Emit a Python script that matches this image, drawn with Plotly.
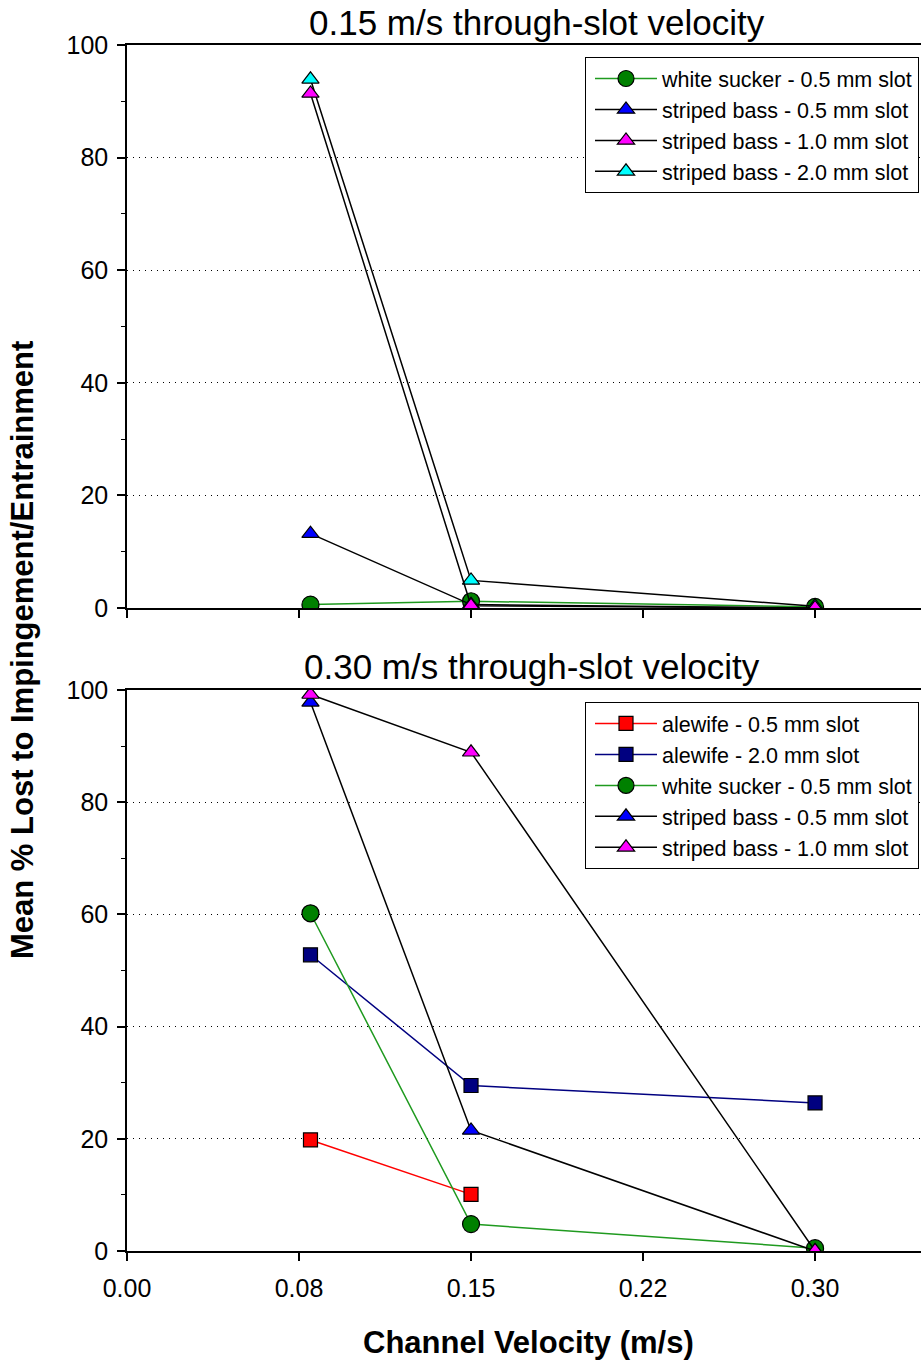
import plotly.graph_objects as go

# x positions (channel velocity, m/s)
velocity = [0.08, 0.15, 0.30]

# Top panel: 0.15 m/s through-slot velocity
top_white_sucker_05 = [0.6, 1.2, 0.2]
top_striped_bass_05 = [13.2, 0.6, 0.0]
top_striped_bass_10 = [91.4, 0.4, 0.0]
top_striped_bass_20 = [93.9, 4.9, 0.3]

# Bottom panel: 0.30 m/s through-slot velocity
bot_alewife_05 = [19.8, 10.1, None]
bot_alewife_20 = [52.8, 29.5, 26.4]
bot_white_sucker_05 = [60.2, 4.8, 0.5]
bot_striped_bass_05 = [97.8, 21.5, 0.0]
bot_striped_bass_10 = [99.2, 88.9, 0.0]

x_tickvals = [0.0, 0.075, 0.15, 0.225, 0.30]
x_ticktext = ["0.00", "0.08", "0.15", "0.22", "0.30"]
y_tickvals = [0, 20, 40, 60, 80, 100]

FONT = "Liberation Sans, Arial, sans-serif"

fig = go.Figure()

def add(x, y, name, symbol, fill, line_color, size, xa, ya, legend, rank):
    fig.add_trace(go.Scatter(
        x=x, y=y, name=name, mode="lines+markers",
        xaxis=xa, yaxis=ya, legend=legend, legendrank=rank,
        line=dict(color=line_color, width=1.5),
        marker=dict(symbol=symbol, size=size, color=fill,
                    line=dict(color="black", width=1.2)),
        connectgaps=False,
    ))

GREEN_LINE = "#1f9a1f"
# top panel (drawing order chosen to mimic overlaps)
add(velocity, top_white_sucker_05, "white sucker - 0.5 mm slot", "circle", "#008000", GREEN_LINE, 17, "x", "y", "legend", 1)
add(velocity, top_striped_bass_05, "striped bass - 0.5 mm slot", "triangle-up", "#0000ff", "black", 15, "x", "y", "legend", 2)
add(velocity, top_striped_bass_20, "striped bass - 2.0 mm slot", "triangle-up", "#00ffff", "black", 15, "x", "y", "legend", 4)
add(velocity, top_striped_bass_10, "striped bass - 1.0 mm slot", "triangle-up", "#ff00ff", "black", 15, "x", "y", "legend", 3)

# bottom panel
add(velocity, bot_alewife_05, "alewife - 0.5 mm slot", "square", "#ff0000", "#ff0000", 14, "x2", "y2", "legend2", 1)
add(velocity, bot_alewife_20, "alewife - 2.0 mm slot", "square", "#000080", "#000080", 14, "x2", "y2", "legend2", 2)
add(velocity, bot_white_sucker_05, "white sucker - 0.5 mm slot", "circle", "#008000", GREEN_LINE, 17, "x2", "y2", "legend2", 3)
add(velocity, bot_striped_bass_05, "striped bass - 0.5 mm slot", "triangle-up", "#0000ff", "black", 15, "x2", "y2", "legend2", 4)
add(velocity, bot_striped_bass_10, "striped bass - 1.0 mm slot", "triangle-up", "#ff00ff", "black", 15, "x2", "y2", "legend2", 5)

H = 1363
T, B = 45, 112
plot_h = H - T - B
top_dom = [(1251 - 608) / plot_h, 1.0]
bot_dom = [0.0, (1251 - 690) / plot_h]

xcommon = dict(range=[0, 0.3462], tickvals=x_tickvals, ticktext=x_ticktext,
               ticks="outside", ticklen=8, tickwidth=1.5, tickcolor="black",
               showline=True, linecolor="black", linewidth=1.5, mirror=True,
               showgrid=False, zeroline=False, ticklabelstandoff=6,
               tickfont=dict(family=FONT, size=25, color="black"))
ycommon = dict(range=[0, 100], tickvals=y_tickvals,
               ticks="outside", ticklen=8, tickwidth=1.5, tickcolor="black",
               showline=True, linecolor="black", linewidth=1.5, mirror=False,
               showgrid=True, gridcolor="black", gridwidth=1, griddash="1px,5px",
               zeroline=False, ticklabelstandoff=4,
               minor=dict(dtick=10, ticks="outside", ticklen=4, tickwidth=1.2,
                          tickcolor="black", showgrid=False),
               tickfont=dict(family=FONT, size=25, color="black"))

legend_common = dict(bgcolor="white", bordercolor="black", borderwidth=1,
                     xanchor="right", yanchor="top",
                     font=dict(family=FONT, size=21.5, color="black"),
                     tracegroupgap=0, indentation=4, itemwidth=62)

fig.update_layout(
    width=921, height=H,
    margin=dict(l=127, r=0, t=T, b=B),
    plot_bgcolor="white", paper_bgcolor="white",
    font=dict(family=FONT, color="black"),
    xaxis=dict(**xcommon, anchor="y", showticklabels=False),
    yaxis=dict(**ycommon, domain=top_dom, anchor="x"),
    xaxis2=dict(**xcommon, anchor="y2"),
    yaxis2=dict(**ycommon, domain=bot_dom, anchor="x2"),
    legend=dict(**legend_common, x=(919 - 127) / 794, y=(1251 - 57) / plot_h),
    legend2=dict(**legend_common, x=(919 - 127) / 794, y=(1251 - 702) / plot_h),
    annotations=[
        dict(text="0.15 m/s through-slot velocity", xref="paper", yref="paper",
             x=(537 - 127) / 794, y=(1251 - 22) / plot_h, showarrow=False,
             xanchor="center", yanchor="middle",
             font=dict(family=FONT, size=35, color="black")),
        dict(text="0.30 m/s through-slot velocity", xref="paper", yref="paper",
             x=(532 - 127) / 794, y=(1251 - 666) / plot_h, showarrow=False,
             xanchor="center", yanchor="middle",
             font=dict(family=FONT, size=35, color="black")),
        dict(text="<b>Mean % Lost to Impingement/Entrainment</b>", xref="paper", yref="paper",
             x=(22 - 127) / 794, y=(1251 - 650) / plot_h, showarrow=False,
             textangle=-90, xanchor="center", yanchor="middle",
             font=dict(family=FONT, size=31, color="black")),
        dict(text="<b>Channel Velocity (m/s)</b>", xref="paper", yref="paper",
             x=(528 - 127) / 794, y=(1251 - 1342) / plot_h, showarrow=False,
             xanchor="center", yanchor="middle",
             font=dict(family=FONT, size=31, color="black")),
    ],
)

fig.write_html("out.html", config={"displayModeBar": False},
               post_script="document.body.style.margin='0px';")
